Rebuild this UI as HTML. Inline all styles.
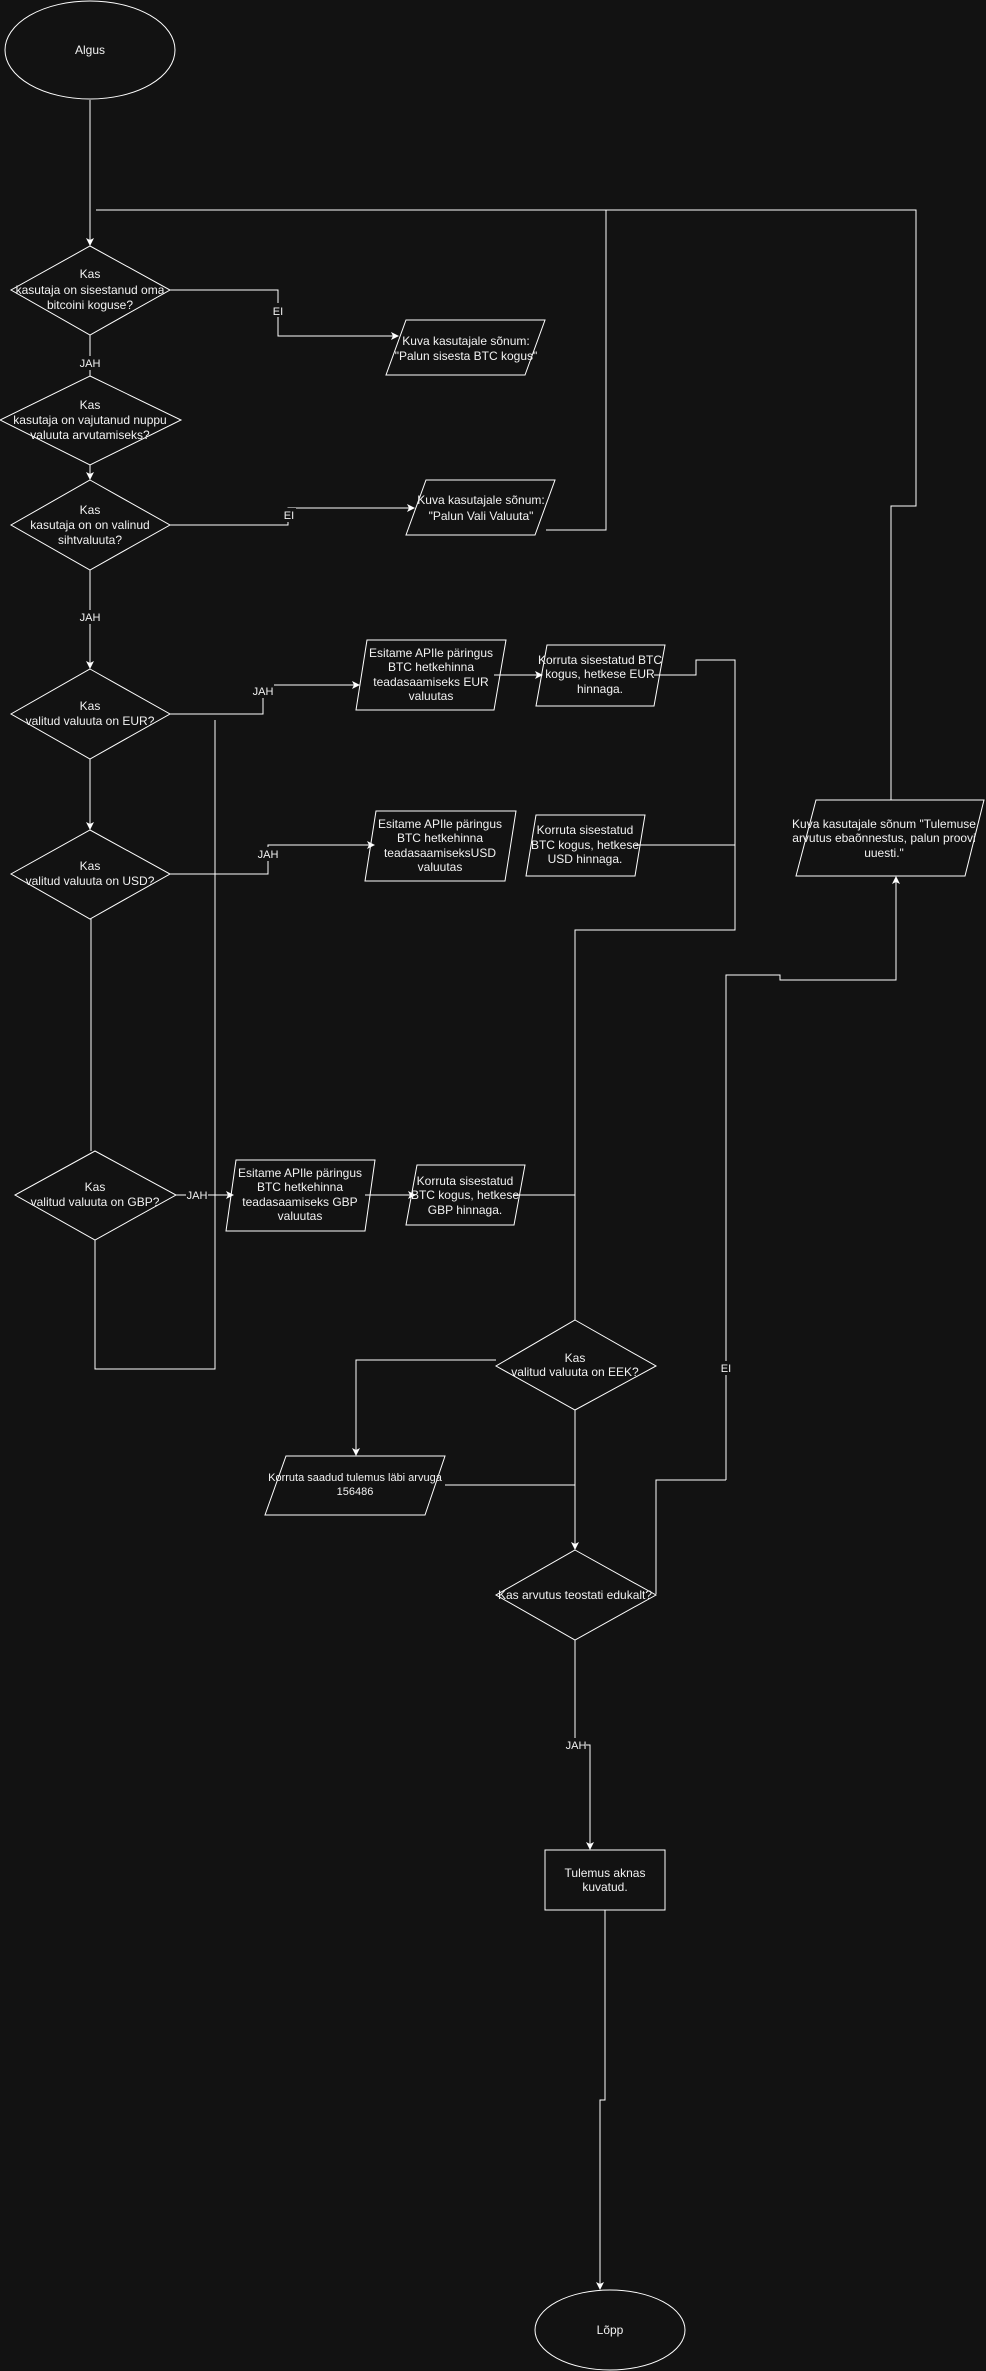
<!DOCTYPE html>
<html><head><meta charset="utf-8"><style>
html,body{margin:0;padding:0;background:#121212;}
svg{display:block;}
text{font-family:"Liberation Sans",Arial,sans-serif;font-size:12px;fill:#f2f2f2;text-anchor:middle;}
.s{font-size:11px;}
.l{fill:#121212;}
</style></head><body>
<svg width="986" height="2371" viewBox="0 0 986 2371" xmlns="http://www.w3.org/2000/svg">
<defs><marker id="a" markerWidth="8" markerHeight="8" refX="7" refY="4" orient="auto" markerUnits="userSpaceOnUse"><path d="M0,0 L8,4 L0,8 L2,4 Z" fill="#fff"/></marker></defs>
<rect width="986" height="2371" fill="#121212"/>
<g fill="none" stroke="#fff" stroke-width="1">
<ellipse cx="90" cy="50" rx="85" ry="49"/>
<line x1="90" y1="100" x2="90" y2="245" marker-end="url(#a)"/>
<polyline points="96,210 916,210 916,506 891,506 891,800"/>
<polyline points="606,210 606,530 546,530"/>
<polygon points="90,246 170,290 90,335 11,290"/>
<polyline points="170,290 278,290 278,336 398,336" marker-end="url(#a)"/>
<polygon points="406,320 545,320 525,375 386,375"/>
<line x1="90" y1="335" x2="90" y2="376"/>
<polygon points="90,376 181,420 90,465 0,420"/>
<line x1="90" y1="465" x2="90" y2="479" marker-end="url(#a)"/>
<polygon points="90,480 170,525 90,570 11,525"/>
<polyline points="170,525 288,525 288,508 414,508" marker-end="url(#a)"/>
<polygon points="426,480 555,480 535,535 406,535"/>
<line x1="90" y1="570" x2="90" y2="668" marker-end="url(#a)"/>
<polygon points="90,669 170,714 90,759 11,714"/>
<polyline points="170,714 263,714 263,685 359,685" marker-end="url(#a)"/>
<polygon points="367,640 506,640 494,710 356,710"/>
<line x1="494" y1="675" x2="542" y2="675" marker-end="url(#a)"/>
<polygon points="547,645 665,645 654,706 536,706"/>
<polyline points="654,675 696,675 696,660 735,660 735,930 575,930 575,1320"/>
<polyline points="215,720 215,1369 95,1369 95,1240"/>
<line x1="90" y1="759" x2="90" y2="829" marker-end="url(#a)"/>
<polygon points="90,830 170,874 90,919 11,874"/>
<polyline points="170,874 268,874 268,845 374,845" marker-end="url(#a)"/>
<polygon points="376,811 516,811 505,881 365,881"/>
<polygon points="536,815 645,815 635,876 526,876"/>
<line x1="635" y1="845" x2="735" y2="845"/>
<line x1="91" y1="919" x2="91" y2="1151"/>
<polygon points="95,1151 176,1195 95,1240 15,1195"/>
<line x1="176" y1="1195" x2="233" y2="1195" marker-end="url(#a)"/>
<polygon points="236,1160 375,1160 365,1231 226,1231"/>
<line x1="365" y1="1195" x2="415" y2="1195" marker-end="url(#a)"/>
<polygon points="417,1165 525,1165 514,1225 406,1225"/>
<line x1="514" y1="1195" x2="575" y2="1195"/>
<polygon points="816,800 984,800 965,876 796,876"/>
<polyline points="726,1480 726,975 780,975 780,980 896,980 896,877" marker-end="url(#a)"/>
<polyline points="726,1480 656,1480 656,1594"/>
<polygon points="575,1320 656,1366 575,1410 496,1366"/>
<polyline points="496,1360 356,1360 356,1455" marker-end="url(#a)"/>
<polygon points="286,1456 445,1456 425,1515 265,1515"/>
<line x1="445" y1="1485" x2="575" y2="1485"/>
<line x1="575" y1="1410" x2="575" y2="1549" marker-end="url(#a)"/>
<polygon points="575,1550 656,1595 575,1640 496,1595"/>
<polyline points="575,1640 575,1745 590,1745 590,1849" marker-end="url(#a)"/>
<rect x="545" y="1850" width="120" height="60"/>
<polyline points="605,1910 605,2100 600,2100 600,2289" marker-end="url(#a)"/>
<ellipse cx="610" cy="2330" rx="75" ry="40"/>
</g>
<rect class="l" x="270" y="303" width="16" height="14"/>
<rect class="l" x="280" y="508" width="16" height="14"/>
<rect class="l" x="80" y="356" width="20" height="14"/>
<rect class="l" x="80" y="610" width="20" height="14"/>
<rect class="l" x="252" y="684" width="22" height="14"/>
<rect class="l" x="257" y="847" width="22" height="14"/>
<rect class="l" x="186" y="1188" width="22" height="14"/>
<rect class="l" x="718" y="1361" width="16" height="14"/>
<rect class="l" x="564" y="1738" width="22" height="14"/>
<text x="90" y="54">Algus</text>
<text x="90" y="278">Kas</text><text x="90" y="294">kasutaja on sisestanud oma</text><text x="90" y="309">bitcoini koguse?</text>
<text x="278" y="315" class="s">EI</text>
<text x="466" y="345">Kuva kasutajale sõnum:</text><text x="466" y="360">"Palun sisesta BTC kogus"</text>
<text x="90" y="367" class="s">JAH</text>
<text x="90" y="409">Kas</text><text x="90" y="424">kasutaja on vajutanud nuppu</text><text x="90" y="439">valuuta arvutamiseks?</text>
<text x="90" y="514">Kas</text><text x="90" y="529">kasutaja on on valinud</text><text x="90" y="544">sihtvaluuta?</text>
<text x="289" y="519" class="s">EI</text>
<text x="481" y="504">Kuva kasutajale sõnum:</text><text x="481" y="520">"Palun Vali Valuuta"</text>
<text x="90" y="621" class="s">JAH</text>
<text x="90" y="710">Kas</text><text x="90" y="725">valitud valuuta on EUR?</text>
<text x="263" y="695" class="s">JAH</text>
<text x="431" y="657">Esitame APIle päringus</text><text x="431" y="671">BTC hetkehinna</text><text x="431" y="686">teadasaamiseks EUR</text><text x="431" y="700">valuutas</text>
<text x="600" y="664">Korruta sisestatud BTC</text><text x="600" y="678">kogus, hetkese EUR</text><text x="600" y="693">hinnaga.</text>
<text x="90" y="870">Kas</text><text x="90" y="885">valitud valuuta on USD?</text>
<text x="268" y="858" class="s">JAH</text>
<text x="440" y="828">Esitame APIle päringus</text><text x="440" y="842">BTC hetkehinna</text><text x="440" y="857">teadasaamiseksUSD</text><text x="440" y="871">valuutas</text>
<text x="585" y="834">Korruta sisestatud</text><text x="585" y="849">BTC kogus, hetkese</text><text x="585" y="863">USD hinnaga.</text>
<text x="884" y="828">Kuva kasutajale sõnum "Tulemuse</text><text x="884" y="842">arvutus ebaõnnestus, palun proovi</text><text x="884" y="857">uuesti."</text>
<text x="95" y="1191">Kas</text><text x="95" y="1206">valitud valuuta on GBP?</text>
<text x="197" y="1199" class="s">JAH</text>
<text x="300" y="1177">Esitame APIle päringus</text><text x="300" y="1191">BTC hetkehinna</text><text x="300" y="1206">teadasaamiseks GBP</text><text x="300" y="1220">valuutas</text>
<text x="465" y="1185">Korruta sisestatud</text><text x="465" y="1199">BTC kogus, hetkese</text><text x="465" y="1214">GBP hinnaga.</text>
<text x="575" y="1362">Kas</text><text x="575" y="1376">valitud valuuta on EEK?</text>
<text x="726" y="1372" class="s">EI</text>
<text x="355" y="1481" class="s">Korruta saadud tulemus läbi arvuga</text><text x="355" y="1495" class="s">156486</text>
<text x="575" y="1599">Kas arvutus teostati edukalt?</text>
<text x="576" y="1749" class="s">JAH</text>
<text x="605" y="1877">Tulemus aknas</text><text x="605" y="1891">kuvatud.</text>
<text x="610" y="2334">Lõpp</text>
</svg>
</body></html>
